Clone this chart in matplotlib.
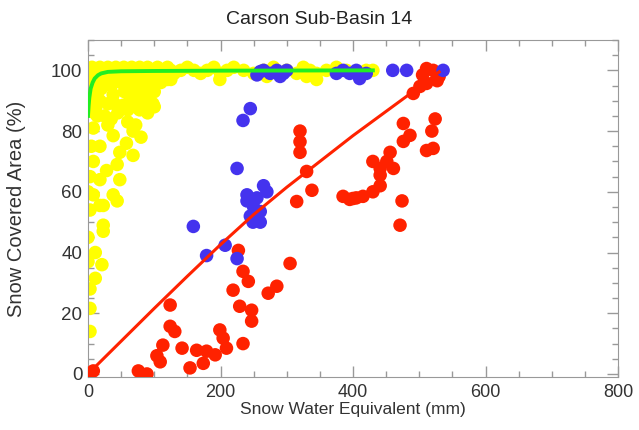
import matplotlib
matplotlib.use("Agg")
import matplotlib.pyplot as plt
from matplotlib.ticker import MultipleLocator

plt.rcParams['font.family'] = ['Liberation Sans', 'DejaVu Sans']

title = "Carson Sub-Basin 14"
xlabel = "Snow Water Equivalent (mm)"
ylabel = "Snow Covered Area (%)"

# Yellow series (SWE mm, SCA %)
yellow_swe = [0, 3, 6, 10, 14, 18, 22, 26, 30, 34, 38, 42, 46, 50, 54, 58, 62, 66, 70, 74, 78, 82, 86, 90, 95,
              100, 105, 110, 115, 120, 125, 130, 140, 150, 160, 170, 180, 190, 200, 210, 220, 235, 250, 265,
              280, 300, 315, 325, 335, 345, 360, 375, 390, 405, 420, 430,
              199, 345, 330, 270, 30, 60, 90, 120, 15, 45, 75, 105,
              5, 20, 38, 55, 70, 78, 95, 100, 18, 53, 78, 85, 98, 8, 30, 65, 45, 10, 25, 90,
              5, 15, 25, 35, 50, 62, 80, 88, 110, 125, 12, 40, 60, 72, 92, 100, 20, 50, 84,
              68, 38, 18, 48, 68, 44, 8, 8, 18, 48, 8, 38, 18, 44, 23, 23, 23, 11, 21, 11, 3, 3, 3, 0,
              3, 5, 28, 58, 0, 3, 60, 80, 35, 72, 2, 0, 14, 30]
yellow_sca = [100, 99, 101, 100, 99, 101, 100, 99, 101, 100, 99, 101, 100, 99, 101, 100, 99, 101, 100, 99, 101,
              100, 99, 101, 100, 99, 101, 100, 99, 101, 100, 99, 100, 101, 100, 99, 100, 101, 99, 100, 101, 100,
              99, 100, 101, 100, 99, 101, 100, 99, 100, 101, 100, 99, 100, 100,
              97, 97, 98, 98, 97, 96, 97, 97, 96, 97, 97, 98,
              95, 94, 92, 93, 94, 92, 95, 93, 90, 88.5, 87, 90, 89, 91, 89, 90, 86, 86, 85, 86,
              97, 93, 96, 95, 96, 92, 96, 93, 96, 97, 88, 89, 87, 88, 91, 88, 98, 98, 98,
              80, 78.5, 75, 73, 72, 69, 81, 70, 64, 64, 59, 59, 55.5, 57, 55.5, 49, 47, 40, 36, 31.5, 21.6, 14, 54, 37,
              65, 75, 67, 76, 45, 28, 83, 78, 84, 82, 90, 60, 85, 82]

# Blue series
blue_swe = [260, 265, 275, 285, 295, 300, 255, 290, 375, 385, 395, 405, 410, 420, 460, 481, 536,
            245, 234, 225, 240, 265, 240, 260, 249, 260, 159, 179, 207, 225, 250, 255, 245, 270]
blue_sca = [99.6, 100, 99, 100, 99, 100, 98.5, 98, 99, 100, 99, 100, 97.3, 99, 100, 100, 100,
            87.4, 83.5, 67.7, 59, 62, 57, 53.5, 50, 50, 48.6, 39, 42.4, 38, 55, 58, 52, 60]

# Red series
red_swe = [0, 3, 8, 76, 89, 109, 104, 113, 124, 124, 131, 142, 154, 164, 174, 179, 192, 199, 209, 204, 234,
           227, 234, 242, 219, 229, 247, 247, 272, 285, 305, 315, 471, 474,
           320, 320, 320, 330, 338, 385, 400, 415, 430, 441, 430, 441, 451, 456, 461, 441, 395, 405,
           476, 486, 476, 511, 521, 524, 519, 491, 501, 511, 527, 511, 521, 505, 530]
red_sca = [0, 0, 1, 1, 0, 4, 6, 9.5, 22.7, 15.7, 14, 8.5, 2, 7.8, 3.5, 7.5, 6.3, 14.5, 8.5, 11.8, 10,
           40.7, 33.8, 30.5, 27.6, 22.3, 21, 17.4, 26.6, 28.9, 36.4, 56.8, 49, 57,
           80, 76.5, 73, 66.7, 60.5, 58.5, 57.8, 58.5, 60, 62, 70, 67.7, 70, 73, 67.7, 65.5, 57.5, 58,
           82.5, 78.6, 76.6, 73.6, 74.3, 84, 80, 92.4, 94.7, 95.7, 96.6, 100.6, 100, 98.5, 98]

# Fitted curves
red_fit_swe = [0, 50, 100, 150, 200, 250, 300, 350, 400, 450, 500, 530]
red_fit_sca = [0, 10.8, 21.6, 32.2, 42.6, 52.5, 61.5, 70, 78.5, 86.5, 94.5, 99.5]
green_fit_swe = [0, 1, 2, 4, 7, 10, 15, 20, 30, 50, 100, 200, 430]
green_fit_sca = [85, 88.5, 91, 94, 96, 97.3, 98.4, 99, 99.5, 99.7, 99.8, 99.9, 100]

fig = plt.figure(figsize=(6.39, 4.30), dpi=100)
ax = fig.add_axes([88/639, 53/430, 530/639, 337/430])

ms = 95
ax.scatter(yellow_swe, yellow_sca, s=ms, color='#ffff00', edgecolors='none', zorder=2)
ax.scatter(red_swe, red_sca, s=ms, color='#ff2200', edgecolors='none', zorder=3)
ax.scatter(blue_swe, blue_sca, s=ms, color='#4433ee', edgecolors='none', zorder=4)
ax.plot(red_fit_swe, red_fit_sca, color='#ff2200', lw=2.2, zorder=5)
ax.plot(green_fit_swe, green_fit_sca, color='#22ee22', lw=2.8, zorder=6)

ax.set_xlim(0, 800)
ax.set_ylim(-1, 110)
ax.xaxis.set_major_locator(MultipleLocator(200))
ax.xaxis.set_minor_locator(MultipleLocator(50))
ax.yaxis.set_major_locator(MultipleLocator(20))
ax.yaxis.set_minor_locator(MultipleLocator(5))
ax.tick_params(which='both', direction='in', top=True, right=True, colors='#999999',
               labelcolor='#333333')
ax.tick_params(which='major', length=8, width=1)
ax.tick_params(which='minor', length=4, width=1)
ax.tick_params(axis='y', which='major', pad=4, labelsize=13.5)
ax.tick_params(axis='x', which='major', pad=5, labelsize=13)
for s in ax.spines.values():
    s.set_color('#999999')

fig.text(0.5, 1 - 20/430, title, fontsize=14, color='#222222', ha='center', va='center')
ax.set_xlabel(xlabel, fontsize=12.5, color='#333333', labelpad=1)
ax.set_ylabel(ylabel, fontsize=14.5, color='#333333')
ax.yaxis.set_label_coords(-62/530, 0.5)

fig.savefig("out.png", dpi=100)
